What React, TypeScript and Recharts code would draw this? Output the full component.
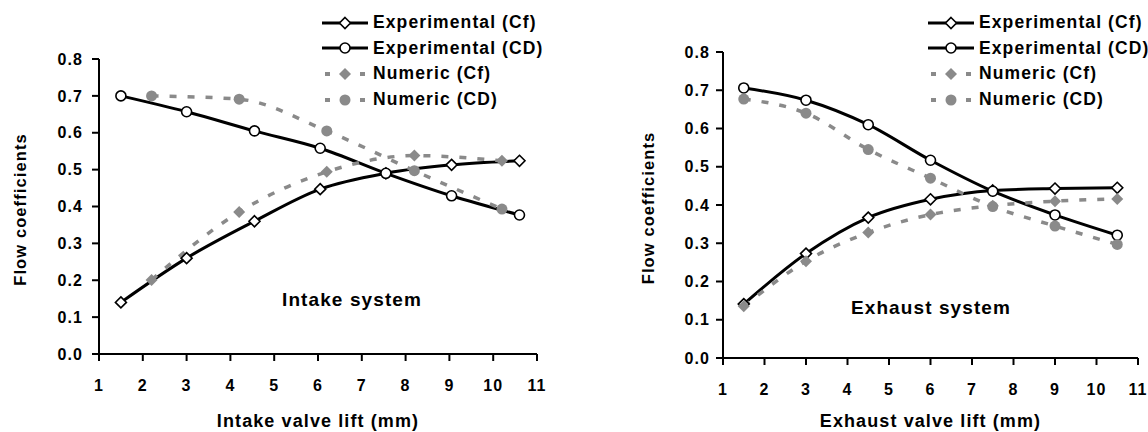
import { Legend, Line, LineChart, XAxis, YAxis } from "recharts";

const FONT = "'Liberation Sans', Arial, Helvetica, sans-serif";
const BLACK = "#000000";
const GREY = "#8a8a8a";

// intake valve: experimental and numeric lifts differ
const intakeLiftExp = [1.5, 3, 4.55, 6.05, 7.55, 9.05, 10.6];
const intakeCfExp = [0.14, 0.26, 0.36, 0.447, 0.49, 0.513, 0.524];
const intakeCdExp = [0.7, 0.657, 0.605, 0.558, 0.49, 0.429, 0.377];
const intakeLiftNum = [2.2, 4.2, 6.2, 8.2, 10.2];
const intakeCfNum = [0.201, 0.385, 0.494, 0.538, 0.524];
const intakeCdNum = [0.7, 0.691, 0.605, 0.497, 0.393];

// exhaust valve
const exhaustLift = [1.5, 3, 4.5, 6, 7.5, 9, 10.5];
const exhaustCfExp = [0.141, 0.273, 0.367, 0.415, 0.438, 0.443, 0.445];
const exhaustCdExp = [0.706, 0.674, 0.61, 0.517, 0.436, 0.374, 0.321];
const exhaustCfNum = [0.135, 0.253, 0.328, 0.375, 0.398, 0.41, 0.416];
const exhaustCdNum = [0.677, 0.64, 0.545, 0.47, 0.396, 0.345, 0.297];

const liftTicks = [1, 2, 3, 4, 5, 6, 7, 8, 9, 10, 11];
const coefTicks = [0, 0.1, 0.2, 0.3, 0.4, 0.5, 0.6, 0.7, 0.8];

type Pt = { lift: number; value: number };
const toPoints = (lift: number[], values: number[]): Pt[] =>
  lift.map((x, i) => ({ lift: x, value: values[i] }));

type SeriesStyle = {
  name: string;
  color: string;
  fill: string;
  dashed: boolean;
  marker: "diamond" | "circle";
};

const STYLES: SeriesStyle[] = [
  { name: "Experimental (Cf)", color: BLACK, fill: "#fff", dashed: false, marker: "diamond" },
  { name: "Experimental (CD)", color: BLACK, fill: "#fff", dashed: false, marker: "circle" },
  { name: "Numeric (Cf)", color: GREY, fill: GREY, dashed: true, marker: "diamond" },
  { name: "Numeric (CD)", color: GREY, fill: GREY, dashed: true, marker: "circle" },
];

function Marker({ cx, cy, s }: { cx: number; cy: number; s: SeriesStyle }) {
  if (cx == null || cy == null) return null;
  if (s.marker === "diamond") {
    const r = s.dashed ? 6 : 5.5;
    return (
      <polygon
        points={`${cx},${cy - r} ${cx + r},${cy} ${cx},${cy + r} ${cx - r},${cy}`}
        fill={s.fill}
        stroke={s.dashed ? "none" : s.color}
        strokeWidth={1.6}
      />
    );
  }
  return (
    <circle
      cx={cx}
      cy={cy}
      r={s.dashed ? 5.5 : 5}
      fill={s.fill}
      stroke={s.dashed ? "none" : s.color}
      strokeWidth={1.6}
    />
  );
}

function LegendBox() {
  return (
    <div style={{ fontSize: 17.5, whiteSpace: "nowrap", color: BLACK }}>
      {STYLES.map((s) => (
        <div key={s.name} style={{ display: "flex", alignItems: "center", height: 25.6 }}>
          <svg width={46} height={16} style={{ marginRight: 5 }}>
            {s.dashed ? (
              <>
                <rect x={3} y={6} width={5} height={4} fill={s.color} />
                <rect x={38} y={6} width={5} height={4} fill={s.color} />
              </>
            ) : (
              <line x1={0} y1={8} x2={46} y2={8} stroke={s.color} strokeWidth={3} />
            )}
            <Marker cx={23} cy={8} s={s} />
          </svg>
          <span>{s.name}</span>
        </div>
      ))}
    </div>
  );
}

function XTitle({ viewBox, text, gap }: any) {
  if (!viewBox) return null;
  const { x, y, width } = viewBox;
  return (
    <text x={x + width / 2} y={y + gap + 6.5} textAnchor="middle" fontSize={18} fill={BLACK}>
      {text}
    </text>
  );
}

function YTitle({ viewBox, text, cx }: any) {
  if (!viewBox) return null;
  const px = viewBox.x + cx + 6;
  const py = viewBox.y + viewBox.height / 2 + 3;
  return (
    <text
      x={px}
      y={py}
      transform={`rotate(-90 ${px} ${py})`}
      textAnchor="middle"
      fontSize={16.5}
      fill={BLACK}
    >
      {text}
    </text>
  );
}

type PanelProps = {
  left: number;
  width: number;
  top: number;
  right: number;
  yAxisWidth: number;
  xAxisHeight: number;
  yTickGap: number;
  yTitleX: number;
  xTitle: string;
  xTitleGap: number;
  legendLeft: number;
  note: string;
  noteX: number;
  noteY: number;
  series: Pt[][];
};

function Panel(p: PanelProps) {
  return (
    <div style={{ position: "absolute", left: p.left, top: 0 }}>
      <LineChart width={p.width} height={432} margin={{ top: p.top, right: p.right, bottom: 0, left: 0 }}>
        <XAxis
          dataKey="lift"
          type="number"
          domain={[1, 11]}
          ticks={liftTicks}
          height={p.xAxisHeight}
          axisLine={{ stroke: BLACK, strokeWidth: 2 }}
          tickLine={{ stroke: BLACK, strokeWidth: 2 }}
          tickSize={7}
          tickMargin={19}
          tick={{ fontSize: 16, fill: BLACK }}
          label={<XTitle text={p.xTitle} gap={p.xTitleGap} />}
        />
        <YAxis
          type="number"
          domain={[0, 0.8]}
          ticks={coefTicks}
          width={p.yAxisWidth}
          axisLine={{ stroke: BLACK, strokeWidth: 2 }}
          tickLine={{ stroke: BLACK, strokeWidth: 2 }}
          tickSize={7}
          tickMargin={p.yTickGap}
          tick={{ fontSize: 16, fill: BLACK }}
          tickFormatter={(v: number) => v.toFixed(1)}
          label={<YTitle text="Flow coefficients" cx={p.yTitleX} />}
        />
        {p.series.map((pts, i) => {
          const s = STYLES[i];
          return (
            <Line
              key={s.name}
              name={s.name}
              data={pts}
              dataKey="value"
              type="monotone"
              stroke={s.color}
              strokeWidth={s.dashed ? 3.5 : 3}
              strokeDasharray={s.dashed ? "7 11" : undefined}
              dot={(d: any) => <Marker key={`${s.name}-${d.index}`} cx={d.cx} cy={d.cy} s={s} />}
              activeDot={false}
              isAnimationActive={false}
            />
          );
        })}
        <Legend
          layout="vertical"
          align="center"
          verticalAlign="middle"
          wrapperStyle={{ left: p.legendLeft, top: 10, width: 240, height: 104 }}
          content={() => <LegendBox />}
        />
      </LineChart>
      <div
        style={{
          position: "absolute",
          left: p.noteX,
          top: p.noteY,
          transform: "translate(-50%, -50%)",
          fontSize: 19,
          lineHeight: 1,
          whiteSpace: "nowrap",
        }}
      >
        {p.note}
      </div>
    </div>
  );
}

export default function App() {
  return (
    <div
      style={{
        position: "absolute",
        left: 0,
        top: 0,
        width: 1148,
        height: 432,
        overflow: "hidden",
        background: "#fff",
        fontFamily: FONT,
        fontWeight: 700,
        letterSpacing: "1.1px",
      }}
    >
      <Panel
        left={0}
        width={560}
        top={59}
        right={23}
        yAxisWidth={99}
        xAxisHeight={78}
        yTickGap={9}
        yTitleX={20}
        xTitle="Intake valve lift (mm)"
        xTitleGap={66}
        legendLeft={322}
        note="Intake system"
        noteX={352}
        noteY={299}
        series={[
          toPoints(intakeLiftExp, intakeCfExp),
          toPoints(intakeLiftExp, intakeCdExp),
          toPoints(intakeLiftNum, intakeCfNum),
          toPoints(intakeLiftNum, intakeCdNum),
        ]}
      />
      <Panel
        left={600}
        width={548}
        top={52}
        right={10}
        yAxisWidth={123}
        xAxisHeight={74}
        yTickGap={6}
        yTitleX={48}
        xTitle="Exhaust valve lift (mm)"
        xTitleGap={62}
        legendLeft={328}
        note="Exhaust system"
        noteX={331}
        noteY={307}
        series={[
          toPoints(exhaustLift, exhaustCfExp),
          toPoints(exhaustLift, exhaustCdExp),
          toPoints(exhaustLift, exhaustCfNum),
          toPoints(exhaustLift, exhaustCdNum),
        ]}
      />
    </div>
  );
}
